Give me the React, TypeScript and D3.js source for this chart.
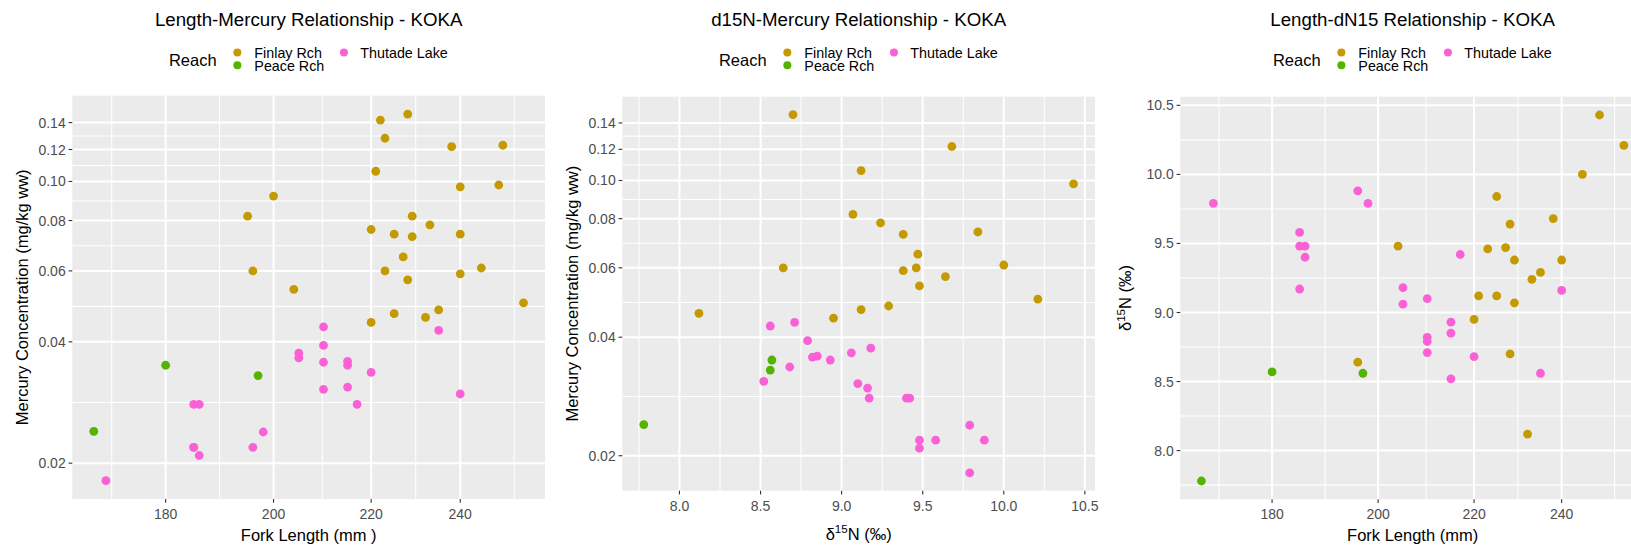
import React from 'react';
import * as d3 from 'd3';

const FONT = "'Liberation Sans', Arial, Helvetica, sans-serif";

// Reach factor levels and their colours
const reaches = ['Finlay Rch', 'Peace Rch', 'Thutade Lake'];
const reachColors = ['#C49A00', '#53B400', '#FB61D7'];

// Kokanee per reach: fork length (mm), d15N (permil), mercury (mg/kg ww); NaN = no isotope sample
const finlayLength = [228, 238, 221, 249.2, 229, 233, 229, 225, 227, 196, 223, 240, 228, 245, 204, 255.3, 235, 225, 220, 232, 222, 223, 250.2, 200, 240, 195, 220, 240];
const finlayD15N = [8.70, 9.68, 9.12, 10.43, 9.07, 9.24, 9.38, 9.84, 9.47, 8.64, 9.46, 9.38, 9.64, 10.0, 9.48, 10.21, 9.29, 9.12, 8.95, 8.12, NaN, NaN, NaN, NaN, NaN, NaN, NaN, NaN];
const finlayHg = [0.147, 0.122, 0.106, 0.098, 0.082, 0.078, 0.073, 0.074, 0.065, 0.060, 0.060, 0.059, 0.057, 0.061, 0.054, 0.050, 0.048, 0.047, 0.0447, 0.046, 0.142, 0.128, 0.123, 0.092, 0.097, 0.082, 0.076, 0.074];

const peaceLength = [180, 197, 167.8];
const peaceD15N = [8.57, 8.56, 7.78];
const peaceHg = [0.035, 0.033, 0.024];

const thutadeLength = [210, 235, 210, 205, 205, 210, 215, 215, 220, 210, 215, 240, 185, 186, 217, 198, 185, 185, 196, 186, 169.8];
const thutadeD15N = [8.71, 8.56, 8.79, 9.18, 9.06, 8.82, 8.85, 8.93, 8.68, 9.10, 8.52, 9.16, 9.17, 9.40, 9.42, 9.79, 9.48, 9.58, 9.88, 9.48, 9.79];
const thutadeHg = [0.0436, 0.0427, 0.0392, 0.0375, 0.0365, 0.0356, 0.0358, 0.0350, 0.0336, 0.0305, 0.0309, 0.0297, 0.028, 0.028, 0.028, 0.0239, 0.0219, 0.0219, 0.0219, 0.0209, 0.0181];

// Axis breaks
const lengthTicks = [180, 200, 220, 240];
const mercuryTicks = [0.02, 0.04, 0.06, 0.08, 0.10, 0.12, 0.14];
const d15nTicks = [8.0, 8.5, 9.0, 9.5, 10.0, 10.5];

type Field = 'length' | 'd15n' | 'hg';
type Row = { reach: number; length: number; d15n: number; hg: number };

const rows: Row[] = [];
[
  [finlayLength, finlayD15N, finlayHg],
  [peaceLength, peaceD15N, peaceHg],
  [thutadeLength, thutadeD15N, thutadeHg],
].forEach(([L, N, H], r) => {
  L.forEach((l, i) => rows.push({ reach: r, length: l, d15n: N[i], hg: H[i] }));
});

const ident = (v: number) => v;

// 5% expansion of the data range, done in the transformed space
function expandedDomain(vals: number[], log: boolean): [number, number] {
  const t = log ? Math.log : ident;
  const inv = log ? Math.exp : ident;
  const [a, b] = d3.extent(vals.map(t)) as [number, number];
  const pad = (b - a) * 0.05;
  return [inv(a - pad), inv(b + pad)];
}

// Minor breaks halfway between majors (in transformed space), extended toward the limits
function minorBreaks(ticks: number[], domain: [number, number], log: boolean): number[] {
  const t = log ? Math.log10 : ident;
  const inv = log ? (v: number) => Math.pow(10, v) : ident;
  const b = ticks.map(t);
  const lo = t(domain[0]);
  const hi = t(domain[1]);
  const bd = b[1] - b[0];
  const ext = [...b];
  if (lo < b[0]) ext.unshift(b[0] - bd);
  if (hi > b[b.length - 1]) ext.push(b[b.length - 1] + bd);
  const out: number[] = [];
  for (let i = 0; i < ext.length - 1; i++) out.push((ext[i] + ext[i + 1]) / 2);
  return out.filter((v) => v >= lo && v <= hi).map(inv);
}

interface PanelSpec {
  title: string;
  left: number;
  top: number;
  right: number;
  bottom: number;
  x: Field;
  y: Field;
  xLog: boolean;
  yLog: boolean;
  xTicks: number[];
  yTicks: number[];
  xFmt: (v: number) => string;
  yFmt: (v: number) => string;
  xTitle: React.ReactNode;
  yTitle: React.ReactNode;
  xTitleY: number;
  yTitleX: number;
}

const fmt1 = d3.format('.1f');
const fmt2 = d3.format('.2f');
const fmt0 = d3.format('d');

const deltaLabel = (
  <>
    <tspan>δ</tspan>
    <tspan dy={-6.5} fontSize={11.5}>15</tspan>
    <tspan dy={6.5}>N (‰)</tspan>
  </>
);

const panels: PanelSpec[] = [
  {
    title: 'Length-Mercury Relationship - KOKA',
    left: 72.3, top: 95.7, right: 545, bottom: 499,
    x: 'length', y: 'hg', xLog: true, yLog: true,
    xTicks: lengthTicks, yTicks: mercuryTicks, xFmt: fmt0, yFmt: fmt2,
    xTitle: 'Fork Length (mm )', yTitle: 'Mercury Concentration (mg/kg ww)',
    xTitleY: 541, yTitleX: 27.5,
  },
  {
    title: 'd15N-Mercury Relationship - KOKA',
    left: 622.3, top: 96.7, right: 1095, bottom: 490.7,
    x: 'd15n', y: 'hg', xLog: false, yLog: true,
    xTicks: d15nTicks, yTicks: mercuryTicks, xFmt: fmt1, yFmt: fmt2,
    xTitle: deltaLabel, yTitle: 'Mercury Concentration (mg/kg ww)',
    xTitleY: 539.5, yTitleX: 577.5,
  },
  {
    title: 'Length-dN15 Relationship - KOKA',
    left: 1180.3, top: 96.7, right: 1645, bottom: 499.3,
    x: 'length', y: 'd15n', xLog: true, yLog: false,
    xTicks: lengthTicks, yTicks: d15nTicks, xFmt: fmt0, yFmt: fmt1,
    xTitle: 'Fork Length (mm)', yTitle: deltaLabel,
    xTitleY: 541, yTitleX: 1131,
  },
];

const TICK_LEN = 3.7;
const TICK_GAP = 2.9;

function Panel({ p }: { p: PanelSpec }) {
  const data = rows.filter((r) => !Number.isNaN(r[p.x]) && !Number.isNaN(r[p.y]));
  const xDom = expandedDomain(data.map((r) => r[p.x]), p.xLog);
  const yDom = expandedDomain(data.map((r) => r[p.y]), p.yLog);
  const xs = (p.xLog ? d3.scaleLog() : d3.scaleLinear()).domain(xDom).range([p.left, p.right]);
  const ys = (p.yLog ? d3.scaleLog() : d3.scaleLinear()).domain(yDom).range([p.bottom, p.top]);
  const xMinor = minorBreaks(p.xTicks, xDom, p.xLog);
  const yMinor = minorBreaks(p.yTicks, yDom, p.yLog);
  const cx = (p.left + p.right) / 2;
  const cy = (p.top + p.bottom) / 2;

  return (
    <g>
      <text x={cx} y={25.7} textAnchor="middle" fontSize={18.7} fill="#000">{p.title}</text>

      {/* legend */}
      <g fontFamily={FONT}>
        <text x={cx - 139.7} y={66} fontSize={16.5} fill="#000">Reach</text>
        <circle cx={cx - 71.3} cy={52.5} r={4} fill={reachColors[0]} />
        <text x={cx - 54.3} y={58.3} fontSize={14.3} fill="#000">{reaches[0]}</text>
        <circle cx={cx - 71.3} cy={65.3} r={4} fill={reachColors[1]} />
        <text x={cx - 54.3} y={71} fontSize={14.3} fill="#000">{reaches[1]}</text>
        <circle cx={cx + 35.3} cy={52.5} r={4} fill={reachColors[2]} />
        <text x={cx + 51.7} y={58.3} fontSize={14.3} fill="#000">{reaches[2]}</text>
      </g>

      <rect x={p.left} y={p.top} width={p.right - p.left} height={p.bottom - p.top} fill="#EBEBEB" />
      {xMinor.map((v, i) => (
        <line key={'xm' + i} x1={xs(v)} x2={xs(v)} y1={p.top} y2={p.bottom} stroke="#fff" strokeWidth={1.05} />
      ))}
      {yMinor.map((v, i) => (
        <line key={'ym' + i} x1={p.left} x2={p.right} y1={ys(v)} y2={ys(v)} stroke="#fff" strokeWidth={1.05} />
      ))}
      {p.xTicks.map((v, i) => (
        <line key={'xM' + i} x1={xs(v)} x2={xs(v)} y1={p.top} y2={p.bottom} stroke="#fff" strokeWidth={2} />
      ))}
      {p.yTicks.map((v, i) => (
        <line key={'yM' + i} x1={p.left} x2={p.right} y1={ys(v)} y2={ys(v)} stroke="#fff" strokeWidth={2} />
      ))}

      {data.map((r, i) => (
        <circle key={'pt' + i} cx={xs(r[p.x])} cy={ys(r[p.y])} r={4.4} fill={reachColors[r.reach]} />
      ))}

      {/* x axis */}
      {p.xTicks.map((v, i) => (
        <g key={'xt' + i}>
          <line x1={xs(v)} x2={xs(v)} y1={p.bottom} y2={p.bottom + TICK_LEN} stroke="#333333" strokeWidth={1.1} />
          <text x={xs(v)} y={p.bottom + 20} textAnchor="middle" fontSize={14} fill="#4D4D4D">{p.xFmt(v)}</text>
        </g>
      ))}
      {/* y axis */}
      {p.yTicks.map((v, i) => (
        <g key={'yt' + i}>
          <line x1={p.left - TICK_LEN} x2={p.left} y1={ys(v)} y2={ys(v)} stroke="#333333" strokeWidth={1.1} />
          <text x={p.left - TICK_LEN - TICK_GAP} y={ys(v) + 5} textAnchor="end" fontSize={14} fill="#4D4D4D">{p.yFmt(v)}</text>
        </g>
      ))}

      <text x={cx} y={p.xTitleY} textAnchor="middle" fontSize={16.5} fill="#000">{p.xTitle}</text>
      <g transform={`translate(${p.yTitleX},${cy}) rotate(-90)`}>
        <text x={0} y={0} textAnchor="middle" fontSize={16.5} fill="#000">{p.yTitle}</text>
      </g>
    </g>
  );
}

export default function App() {
  return (
    <svg
      width={1631}
      height={550}
      style={{ position: 'fixed', left: 0, top: 0, background: '#fff', fontFamily: FONT }}
      fontFamily={FONT}
    >
      <rect x={0} y={0} width={1631} height={550} fill="#fff" />
      {panels.map((p, i) => (
        <Panel key={i} p={p} />
      ))}
    </svg>
  );
}
